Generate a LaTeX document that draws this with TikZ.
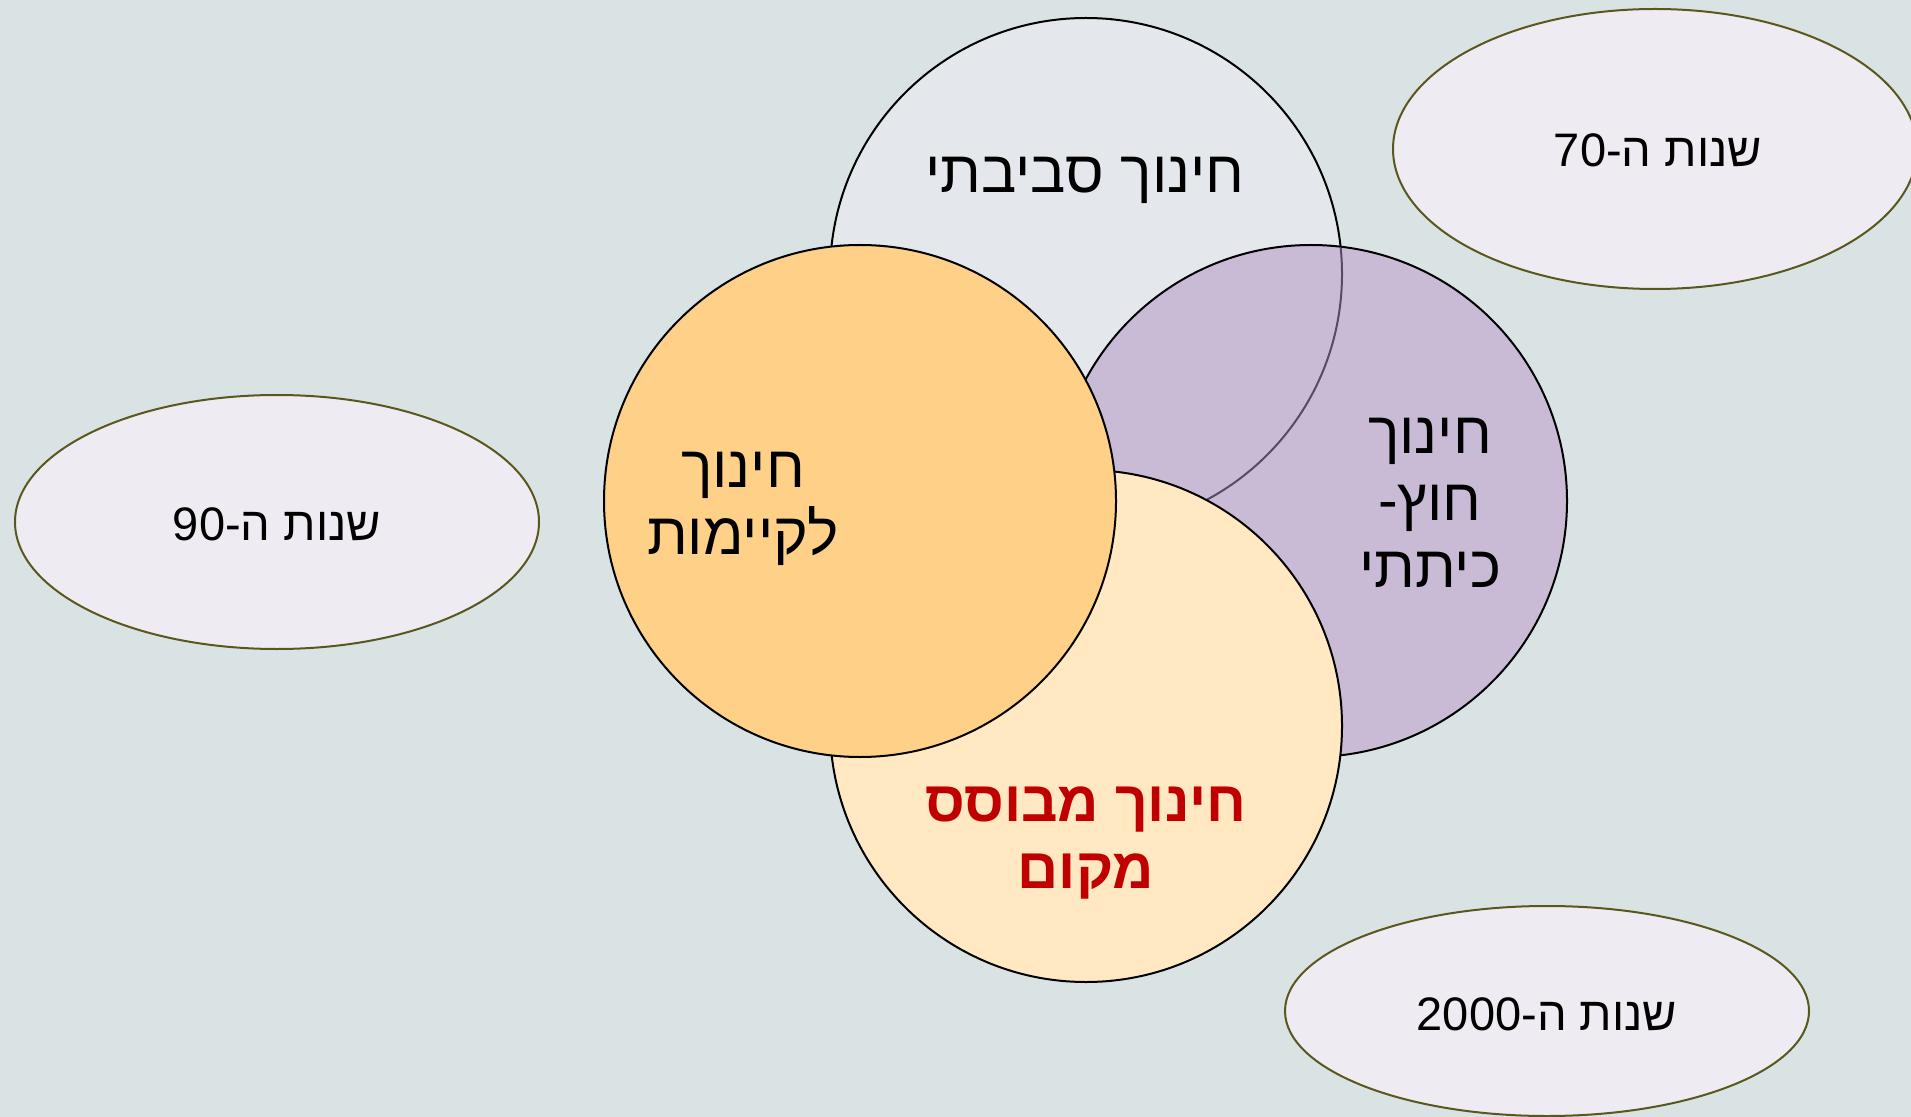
\documentclass[tikz,border=0pt]{standalone}
\usepackage{fontspec}
\usetikzlibrary{shapes.geometric}
\newfontfamily\heb[Script=Hebrew]{Liberation Sans}
\TeXXeTstate=1
\definecolor{bgc}{RGB}{218,227,227}
\definecolor{envc}{RGB}{228,231,235}
\definecolor{susc}{RGB}{255,208,136}
\definecolor{outc}{RGB}{201,187,213}
\definecolor{locc}{RGB}{255,232,194}
\definecolor{elfill}{RGB}{239,235,242}
\definecolor{eldraw}{RGB}{88,88,30}
\definecolor{hidc}{RGB}{85,75,100}
\definecolor{redc}{RGB}{192,0,0}
\begin{document}
\begin{tikzpicture}[x=0.5pt,y=-0.5pt,
  bigc/.style={circle,draw=black,line width=1pt,minimum size=512*0.5pt,inner sep=0pt},
  era/.style={ellipse,draw=eldraw,fill=elfill,line width=1pt,minimum width=524*0.5pt,inner sep=0pt},
  bigtxt/.style={align=center,font=\heb\fontsize{29.5}{33.5}\selectfont,inner sep=0pt},
  smalltxt/.style={font=\heb\fontsize{23.5}{28}\selectfont,inner sep=0pt}]
\fill[bgc] (0,0) rectangle (1911,1117);
\useasboundingbox (0,0) rectangle (1911,1117);
% circles
\node[bigc,fill=envc] (env) at (1086,274) {};
\node[bigc,fill=outc] (out) at (1311,501) {};
\begin{scope}
  \clip (1311,501) circle (255);
  \draw[hidc,line width=1pt] (1086,274) circle (256);
\end{scope}
\node[bigc,fill=locc] (loc) at (1086,726) {};
\node[bigc,fill=susc] (sus) at (860,501) {};
% circle labels
\node[bigtxt] (envt) at (1085,180) {\beginR חינוך סביבתי\endR};
\node[bigtxt] (sust) at (743,509) {\beginR חינוך\endR\\\beginR לקיימות\endR};
\node[bigtxt] (outt) at (1430,503) {\beginR חינוך\endR\\\beginR חוץ-\endR\\\beginR כיתתי\endR};
\node[bigtxt,text=redc,font=\heb\bfseries\fontsize{28.5}{33.5}\selectfont] (loct) at (1086,843) {\beginR חינוך מבוסס\endR\\\beginR מקום\endR};
% era ellipses
\node[era,minimum height=280*0.5pt] (e70) at (1655,149) {};
\node[era,minimum height=254*0.5pt] (e90) at (277,522) {};
\node[era,minimum height=210*0.5pt] (e00) at (1547,1011) {};
\node[smalltxt] (t70) at (1658,150) {\beginR שנות ה-\beginL 70\endL\endR};
\node[smalltxt] (t90) at (277,524) {\beginR שנות ה-\beginL 90\endL\endR};
\node[smalltxt] (t00) at (1547,1014) {\beginR שנות ה-\beginL 2000\endL\endR};
\end{tikzpicture}
\end{document}
